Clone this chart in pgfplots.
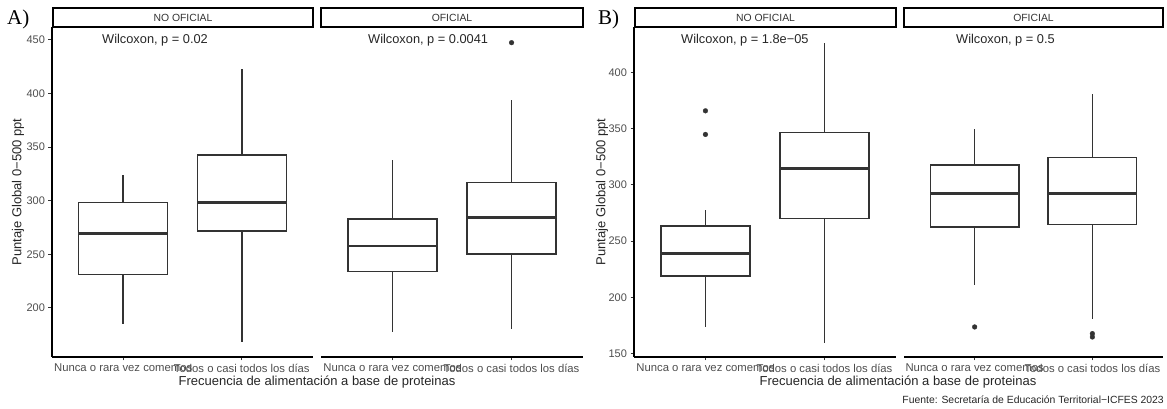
\documentclass[border=0pt]{standalone}
\usepackage{pgfplots}
\pgfplotsset{compat=1.18}
\usepgfplotslibrary{statistics}
\usepackage{fontspec}
\setmainfont{Liberation Sans}
\newfontfamily\seriffont{Liberation Serif}
\definecolor{g20}{HTML}{333333}
\definecolor{g30}{HTML}{4D4D4D}
\pgfplotsset{
  panel/.style={
    scale only axis, height=330pt, xmin=0.4, xmax=2.6,
    axis x line*=bottom, axis y line*=left,
    axis line style={-, black, line width=1.6pt},
    tick align=outside, major tick length=3.5pt,
    tick style={g20, line width=1pt},
    xtick={1,2},
    xticklabels={Nunca o rara vez comemos, Todos o casi todos los días},
    yticklabel style={font=\fontsize{11}{13}\selectfont, text=g30},
    xticklabel style={font=\fontsize{11.3}{13}\selectfont, text=g30},
    /pgf/number format/assume math mode=true,
    clip=false,
    boxplot/draw direction=y,
    boxplot/every median/.style={line width=2.6pt},
    boxplot/every whisker/.style={line width=1.6pt},
    boxplot/every box/.style={line width=1.6pt},
  },
  bx/.style={draw=g20, fill=white, line width=1.6pt, mark=*, mark size=2.4pt,
    mark options={solid, fill=g20, draw=g20, line width=0.3pt}},
}
\newcommand{\strip}[3]{%
  \draw[line width=1.6pt] (#1pt,382pt) rectangle (#2pt,401pt);
  \node[anchor=base, font=\fontsize{10.4}{12}\selectfont, text=g20] at ({(#1+#2)/2*1pt},387.5pt) {#3};}
\newcommand{\wil}[2]{%
  \node[anchor=base west, inner sep=0pt, font=\fontsize{12.8}{14}\selectfont, text=black!85] at (#1pt,365.5pt) {#2};}
\begin{document}
\begin{tikzpicture}
\useasboundingbox (0,0) rectangle (1167pt,409pt);

% ---------- A, NO OFICIAL
\begin{axis}[panel, at={(52pt,52pt)}, anchor=south west, width=261pt,
  ymin=154.2, ymax=462.1, ytick={200,250,300,350,400,450}]
\addplot[bx, boxplot prepared={draw position=1, lower whisker=184.8, lower quartile=231.1,
  median=269.3, upper quartile=298.2, upper whisker=324.1, box extend=0.75, whisker extend=0}] coordinates {};
\addplot[bx, boxplot prepared={draw position=2, lower whisker=168.0, lower quartile=271.8,
  median=298.2, upper quartile=342.4, upper whisker=423.0, box extend=0.75, whisker extend=0}] coordinates {};
\end{axis}

% ---------- A, OFICIAL
\begin{axis}[panel, at={(321pt,52pt)}, anchor=south west, width=262pt,
  ymin=154.2, ymax=462.1, hide y axis]
\addplot[bx, boxplot prepared={draw position=1, lower whisker=177.9, lower quartile=233.9,
  median=257.8, upper quartile=283.0, upper whisker=338.0, box extend=0.75, whisker extend=0}] coordinates {};
\addplot[bx, boxplot prepared={draw position=2, lower whisker=180.4, lower quartile=250.1,
  median=284.6, upper quartile=316.9, upper whisker=394.0, box extend=0.75, whisker extend=0}] coordinates {(2,447.5)};
\end{axis}

% ---------- B, NO OFICIAL
\begin{axis}[panel, at={(634pt,52pt)}, anchor=south west, width=262pt,
  ymin=147, ymax=440.3, ytick={150,200,250,300,350,400}]
\addplot[bx, boxplot prepared={draw position=1, lower whisker=173.7, lower quartile=218.8,
  median=239.0, upper quartile=263.5, upper whisker=277.5, box extend=0.75, whisker extend=0}] coordinates {(1,365.8) (1,344.8)};
\addplot[bx, boxplot prepared={draw position=2, lower whisker=159.4, lower quartile=270.1,
  median=314.6, upper quartile=346.6, upper whisker=426.3, box extend=0.75, whisker extend=0}] coordinates {};
\end{axis}

% ---------- B, OFICIAL
\begin{axis}[panel, at={(904pt,52pt)}, anchor=south west, width=259pt,
  ymin=147, ymax=440.3, hide y axis]
\addplot[bx, boxplot prepared={draw position=1, lower whisker=210.8, lower quartile=262.6,
  median=292.3, upper quartile=317.5, upper whisker=349.8, box extend=0.75, whisker extend=0}] coordinates {(1,173.7)};
\addplot[bx, boxplot prepared={draw position=2, lower whisker=181.1, lower quartile=264.8,
  median=292.3, upper quartile=324.4, upper whisker=380.4, box extend=0.75, whisker extend=0}] coordinates {(2,167.8) (2,164.8)};
\end{axis}

% strips
\strip{53}{313}{NO OFICIAL}
\strip{321}{583}{OFICIAL}
\strip{635}{896}{NO OFICIAL}
\strip{904}{1163}{OFICIAL}

% Wilcoxon labels
\wil{102}{Wilcoxon, p = 0.02}
\wil{368}{Wilcoxon, p = 0.0041}
\wil{681}{Wilcoxon, p = 1.8e−05}
\wil{956}{Wilcoxon, p = 0.5}

% panel letters
\node[anchor=base west, inner sep=0pt, font=\seriffont\fontsize{21}{24}\selectfont] at (7pt,384pt) {A)};
\node[anchor=base west, inner sep=0pt, font=\seriffont\fontsize{21}{24}\selectfont] at (598pt,384pt) {B)};

% axis titles
\node[rotate=90, font=\fontsize{13}{15}\selectfont, text=black!85] at (18pt,217pt) {Puntaje Global 0−500 ppt};
\node[rotate=90, font=\fontsize{13}{15}\selectfont, text=black!85] at (602pt,217pt) {Puntaje Global 0−500 ppt};
\node[anchor=base, font=\fontsize{13}{15}\selectfont, text=black!85] at (317pt,23pt) {Frecuencia de alimentación a base de proteinas};
\node[anchor=base, font=\fontsize{13}{15}\selectfont, text=black!85] at (898pt,23pt) {Frecuencia de alimentación a base de proteinas};

% caption
\node[anchor=base east, inner sep=0pt, font=\fontsize{10.4}{12}\selectfont, text=black!85] at (1164pt,5pt) {Fuente: Secretaría de Educación Territorial−ICFES 2023};
\end{tikzpicture}
\end{document}
